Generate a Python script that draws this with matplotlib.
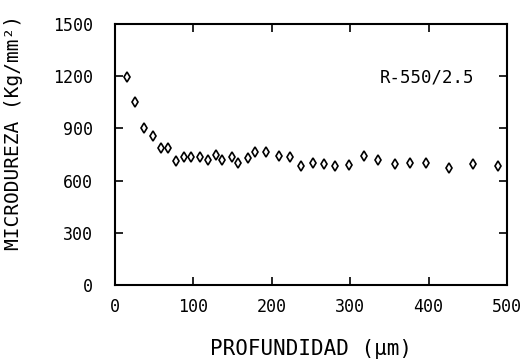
import numpy as np
import matplotlib
matplotlib.use("Agg")
from matplotlib import pyplot as plt

# profundidad (um) and microdureza (Kg/mm^2)
prof = [15, 26, 37, 48, 59, 67, 78, 88, 97, 108, 118, 129, 137, 149, 157,
        169, 178, 192, 209, 223, 237, 252, 267, 281, 299, 318, 336, 357,
        376, 397, 426, 456, 488]
micro = [1197, 1053, 900, 856, 789, 789, 714, 737, 737, 734, 718, 745, 718,
         737, 699, 728, 762, 762, 743, 737, 686, 699, 695, 686, 691, 743,
         718, 693, 699, 699, 674, 693, 686]

xticks = [0, 100, 200, 300, 400, 500]
yticks = [0, 300, 600, 900, 1200, 1500]

plt.rcParams['font.family'] = 'DejaVu Sans Mono'

fig = plt.figure(figsize=(5.31, 3.62), dpi=100)
ax = fig.add_axes([0.2166, 0.2127, 0.7382, 0.721])

ax.plot(prof, micro, linestyle='none', marker='d', markersize=5,
        markerfacecolor='white', markeredgecolor='black', markeredgewidth=1.2)

ax.set_xlim(0, 500)
ax.set_ylim(0, 1500)
ax.set_xticks(xticks)
ax.set_yticks(yticks)
ax.tick_params(direction='in', length=6, width=1.2, top=True, right=True,
               labelsize=12)
ax.tick_params(axis='y', pad=16)
ax.tick_params(axis='x', pad=9)
for s in ax.spines.values():
    s.set_linewidth(1.5)

ax.text(398, 1195, "R-550/2.5", fontsize=12.5, ha='center', va='center')
ax.set_xlabel("PROFUNDIDAD (\u03bcm)", fontsize=15)
ax.set_ylabel("MICRODUREZA (Kg/mm\u00b2)", fontsize=14)
ax.xaxis.set_label_coords(0.5, -0.205)
ax.yaxis.set_label_coords(-0.235, 0.585)

fig.savefig("out.png", dpi=100)
